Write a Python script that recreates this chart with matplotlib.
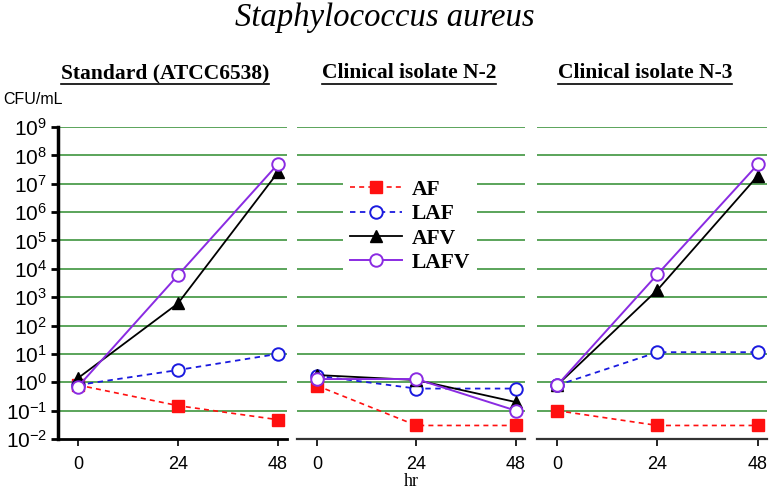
import matplotlib
matplotlib.use("Agg")
import matplotlib.pyplot as plt
from matplotlib.lines import Line2D
import numpy as np

plt.rcParams['mathtext.fontset'] = 'custom'
plt.rcParams['mathtext.rm'] = 'Liberation Sans'
plt.rcParams['mathtext.it'] = 'Liberation Sans'
plt.rcParams['font.family'] = ['Liberation Sans', 'DejaVu Sans']

hours = [0, 24, 48]
panel_titles = ["Standard (ATCC6538)", "Clinical isolate N-2", "Clinical isolate N-3"]
series_names = ["AF", "LAF", "AFV", "LAFV"]

# CFU/mL values per panel
af   = [[0.8, 0.15, 0.048], [0.76, 0.03, 0.03], [0.1, 0.03, 0.03]]
laf  = [[0.8, 2.7, 10.0],   [1.7, 0.6, 0.6],    [0.78, 11.5, 11.5]]
afv  = [[1.4, 600, 2.5e7],  [1.8, 1.2, 0.2],    [0.78, 1800, 1.9e7]]
lafv = [[0.7, 5900, 4.9e7], [1.3, 1.3, 0.1],    [0.78, 6400, 4.8e7]]

ytick_exps = list(range(-2, 10))

styles = {
    "AF":   dict(color="#ff1010", ls=(0, (3, 2.5)), marker="s", ms=8, mfc="#ff1010", mec="#ff1010", lw=1.2),
    "LAF":  dict(color="#1a1adf", ls=(0, (3, 2.5)), marker="o", ms=9, mfc="white", mec="#1a1adf", mew=1.4, lw=1.3),
    "AFV":  dict(color="black", ls="-", marker="^", ms=8, mfc="black", mec="black", lw=1.3),
    "LAFV": dict(color="#8a2be2", ls="-", marker="o", ms=9, mfc="white", mec="#8a2be2", mew=1.4, lw=1.4),
}
data = {"AF": af, "LAF": laf, "AFV": afv, "LAFV": lafv}

W, H = 770, 491
fig = plt.figure(figsize=(W / 100, H / 100), dpi=100)

panels = [(58, 229), (297, 228), (537, 230)]
top_px, bot_px = 127, 439
axes = []
for i, (x0, w) in enumerate(panels):
    ax = fig.add_axes([x0 / W, 1 - bot_px / H, w / W, (bot_px - top_px) / H])
    axes.append(ax)
    ax.set_yscale("log")
    ax.set_ylim(1e-2, 1e9)
    ax.set_xlim(-4.8, 50.2)
    for e in ytick_exps[1:]:
        ax.axhline(10.0 ** e, color="#2e8b2e", lw=1.1, zorder=0)
    for name in series_names:
        ax.plot(hours, data[name][i], label=name, zorder=3, clip_on=False, **styles[name])
    ax.set_xticks(hours)
    ax.set_xticklabels([str(h) for h in hours], fontsize=13)
    ax.tick_params(axis="x", direction="out", length=5, width=1.2, pad=7)
    ax.yaxis.set_minor_locator(matplotlib.ticker.NullLocator())
    for s in ["top", "right"]:
        ax.spines[s].set_visible(False)
    ax.spines["bottom"].set_color("#333333" if i else "black")
    ax.spines["bottom"].set_linewidth(1.6 if i else 2.0)
    if i == 0:
        ax.spines["left"].set_linewidth(2.5)
        ax.set_yticks([10.0 ** e for e in ytick_exps])
        ax.set_yticklabels([r"$\mathregular{10^{%d}}$" % e for e in ytick_exps], fontsize=15)
        ax.tick_params(axis="y", direction="out", length=5, width=2, pad=3)
    else:
        ax.spines["left"].set_visible(False)
        ax.set_yticks([10.0 ** e for e in ytick_exps])
        ax.tick_params(axis="y", left=False, labelleft=False)
    ax.set_facecolor("none")

leg = axes[1].legend(loc="upper left", bbox_to_anchor=(0.2, 0.855), frameon=True,
                     prop=dict(family="Liberation Serif", weight="bold", size=15.5),
                     handlelength=2.4, handletextpad=0.45, labelspacing=0.2,
                     borderpad=0.35, borderaxespad=0, framealpha=1)
leg.get_frame().set_edgecolor("none")
leg.get_frame().set_facecolor("white")
leg.set_zorder(5)

fig.text(0.5, 1 - 18 / H, "Staphylococcus aureus", ha="center", va="center",
         family="Liberation Serif", style="italic", fontsize=23.5)
fig.text(3 / W, 1 - 100 / H, "CFU/mL", ha="left", va="center", fontsize=11.5)
fig.text(411 / W, 1 - 482 / H, "hr", ha="center", va="center",
         family="Liberation Serif", fontsize=13)

sub_centers = [165, 409, 645]
subs = []
for c, t in zip(sub_centers, panel_titles):
    subs.append(fig.text(c / W, 1 - 73 / H, t, ha="center", va="center",
                         family="Liberation Serif", weight="bold", fontsize=15.5))

fig.canvas.draw()
r = fig.canvas.get_renderer()
for t in subs:
    bb = t.get_window_extent(r)
    y = bb.y0 - 0.5
    fig.add_artist(Line2D([bb.x0 / W, bb.x1 / W], [y / H, y / H],
                          transform=fig.transFigure, color="black", lw=1.2))

fig.savefig("out.png", dpi=100)
